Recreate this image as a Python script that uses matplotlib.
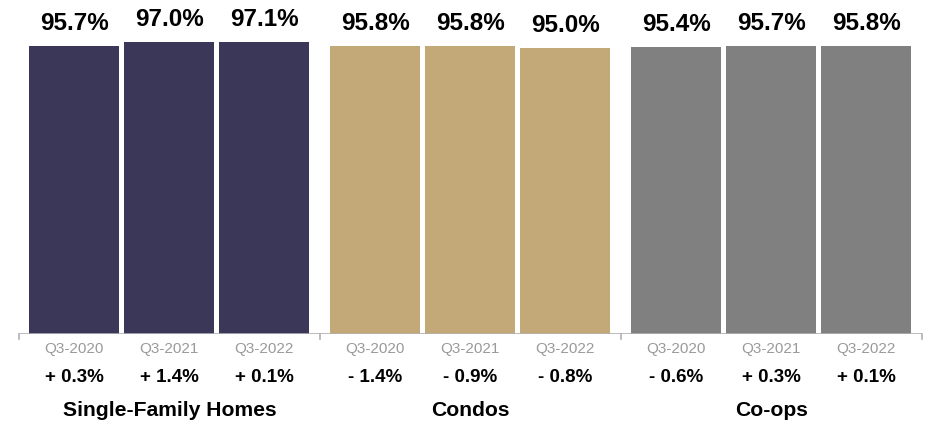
import matplotlib
matplotlib.use("Agg")
import matplotlib.pyplot as plt

plt.rcParams['font.family'] = ['Liberation Sans', 'DejaVu Sans']

groups = ["Single-Family Homes", "Condos", "Co-ops"]
periods = ["Q3-2020", "Q3-2021", "Q3-2022"]
values = [
    [95.7, 97.0, 97.1],
    [95.8, 95.8, 95.0],
    [95.4, 95.7, 95.8],
]
changes = [
    ["+ 0.3%", "+ 1.4%", "+ 0.1%"],
    ["- 1.4%", "- 0.9%", "- 0.8%"],
    ["- 0.6%", "+ 0.3%", "+ 0.1%"],
]
colors = ["#3a3758", "#c3a878", "#808080"]

W, H = 930, 423
fig = plt.figure(figsize=(W / 100, H / 100), dpi=100)
base_px = 334
top_px = 33.3
ax = fig.add_axes([19 / W, (H - base_px) / H, 903 / W, (base_px - top_px) / H])

pitch = 95.0
group_w = 301 / pitch
ax.set_xlim(0, 903 / pitch)
ax.set_ylim(0, 100)

for g, grp in enumerate(groups):
    gstart = g * group_w
    for i, per in enumerate(periods):
        xc = gstart + 55 / pitch + i
        v = values[g][i]
        ax.bar(xc, v, width=90 / pitch, color=colors[g], linewidth=0)
        ax.annotate(f"{v:.1f}%", (xc, v), xytext=(0, 11), textcoords="offset pixels",
                    ha="center", va="bottom", fontsize=17.5, fontweight="bold", color="black",
                    annotation_clip=False)
        ax.annotate(per, (xc, 0), xytext=(0, -15), textcoords="offset pixels",
                    ha="center", va="center", fontsize=11, color="#9a9a9a",
                    annotation_clip=False)
        ax.annotate(changes[g][i], (xc, 0), xytext=(0, -43), textcoords="offset pixels",
                    ha="center", va="center", fontsize=13.5, fontweight="bold", color="black",
                    annotation_clip=False)
    ax.annotate(grp, (gstart + group_w / 2, 0), xytext=(0, -76), textcoords="offset pixels",
                ha="center", va="center", fontsize=15.2, fontweight="bold", color="black",
                annotation_clip=False)

# axis baseline with group separators
ax.axhline(0, color="#b0b0b0", linewidth=1.2, zorder=3)
for g in range(4):
    ax.plot([g * group_w, g * group_w], [0, -1.7], color="#b0b0b0", linewidth=1.2,
            clip_on=False, zorder=3)

for s in ax.spines.values():
    s.set_visible(False)
ax.set_xticks([])
ax.set_yticks([])

fig.savefig("out.png", dpi=100)
